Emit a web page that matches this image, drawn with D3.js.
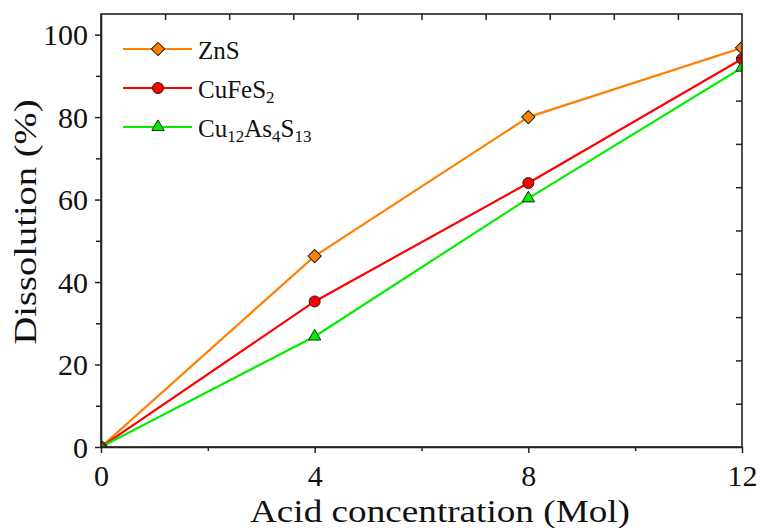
<!DOCTYPE html>
<html>
<head>
<meta charset="utf-8">
<script src="https://cdn.jsdelivr.net/npm/d3@7"></script>
<style>
  body { margin: 0; background: #fff; }
  svg text { font-family: "Liberation Serif", "Times New Roman", serif; fill: #111; }
</style>
</head>
<body>
<div id="chart"></div>
<script>
// data
const acidConc = [0, 4, 8, 12];
const znsVals = [0, 46.3, 80.0, 96.8];
const cufes2Vals = [0, 35.3, 64.0, 94.1];
const tennVals = [0, 26.8, 60.3, 92.0];
const xTicks = [0, 4, 8, 12];
const yTicks = [0, 20, 40, 60, 80, 100];

const width = 760, height = 528;
const plotL = 101, plotR = 742, plotT = 14, plotB = 447;
const serif = "Liberation Serif, Times New Roman, serif";

const svg = d3.select("#chart").append("svg")
  .attr("width", width).attr("height", height)
  .attr("font-family", serif);

const x = d3.scaleLinear().domain([0, 12]).range([plotL, plotR]);
const y = d3.scaleLinear().domain([0, 105]).range([plotB, plotT]);

// clip so markers at the edges are cut by the frame
svg.append("defs").append("clipPath").attr("id", "plotclip")
  .append("rect").attr("x", plotL).attr("y", plotT)
  .attr("width", plotR - plotL).attr("height", plotB - plotT);

const series = [
  { name: "ZnS", vals: znsVals, color: "#ff8000", sym: "diamond" },
  { name: "CuFeS2", vals: cufes2Vals, color: "#ff0000", sym: "circle" },
  { name: "Cu12As4S13", vals: tennVals, color: "#00ee00", sym: "triangle" }
];

function marker(sel, sym) {
  if (sym == "diamond") {
    sel.append("path").attr("d", d3.symbol().type(d3.symbolSquare).size(88)())
      .attr("transform", "rotate(45)");
  } else if (sym == "circle") {
    sel.append("circle").attr("r", 5.5);
  } else {
    sel.append("path").attr("d", d3.symbol().type(d3.symbolTriangle).size(66)());
  }
}

const line = d3.line().x((d, i) => x(acidConc[i])).y(d => y(d));

const plot = svg.append("g").attr("clip-path", "url(#plotclip)");

series.forEach(s => {
  plot.append("path").datum(s.vals)
    .attr("d", line)
    .attr("fill", "none")
    .attr("stroke", s.color)
    .attr("stroke-width", 2.2);
});
series.forEach(s => {
  s.vals.forEach((v, i) => {
    const g = plot.append("g")
      .attr("transform", `translate(${x(acidConc[i])},${y(v)})`)
      .attr("fill", s.color).attr("stroke", "#222").attr("stroke-width", 1);
    marker(g, s.sym);
  });
});

// frame
svg.append("rect").attr("x", plotL).attr("y", plotT)
  .attr("width", plotR - plotL).attr("height", plotB - plotT)
  .attr("fill", "none").attr("stroke", "#222").attr("stroke-width", 1.6);

// bottom axis (outward ticks)
svg.append("g").attr("transform", `translate(0,${plotB})`)
  .call(d3.axisBottom(x).tickValues(xTicks).tickSize(6).tickSizeOuter(0).tickPadding(12))
  .attr("font-family", serif).attr("font-size", 30);
svg.append("g").attr("transform", `translate(0,${plotB})`)
  .call(d3.axisBottom(x).tickValues([2, 6, 10]).tickSize(4).tickFormat(""))
  .call(g => g.select(".domain").remove());

// left axis
const yAxis = svg.append("g").attr("transform", `translate(${plotL},0)`)
  .call(d3.axisLeft(y).tickValues(yTicks).tickSize(6).tickSizeOuter(0).tickPadding(7))
  .attr("font-family", serif).attr("font-size", 30);
svg.append("g").attr("transform", `translate(${plotL},0)`)
  .call(d3.axisLeft(y).tickValues([10, 30, 50, 70, 90]).tickSize(5).tickFormat(""))
  .call(g => g.select(".domain").remove());

// top and right: ten even divisions, inward ticks
const div = d3.scaleLinear().domain([0, 10]);
svg.append("g").attr("transform", `translate(0,${plotT})`)
  .call(d3.axisTop(div.copy().range([plotL, plotR])).tickValues(d3.range(1, 10)).tickSize(-6).tickFormat(""))
  .call(g => g.select(".domain").remove());
svg.append("g").attr("transform", `translate(${plotR},0)`)
  .call(d3.axisRight(div.copy().range([plotB, plotT])).tickValues(d3.range(1, 10)).tickSize(-6).tickFormat(""))
  .call(g => g.select(".domain").remove());

svg.selectAll(".tick line").attr("stroke", "#222").attr("stroke-width", 1.5);
svg.selectAll(".domain").attr("stroke", "#222").attr("stroke-width", 1.6);
svg.selectAll(".tick text").attr("fill", "#111");
yAxis.selectAll(".tick text").attr("dy", "0.34em");

// axis titles
svg.append("text")
  .attr("x", 440).attr("y", 522)
  .attr("text-anchor", "middle")
  .attr("textLength", 380).attr("lengthAdjust", "spacingAndGlyphs")
  .style("font-size", "31px")
  .text("Acid concentration (Mol)");

svg.append("text")
  .attr("transform", "translate(36,222) rotate(-90)")
  .attr("text-anchor", "middle")
  .attr("textLength", 245).attr("lengthAdjust", "spacingAndGlyphs")
  .style("font-size", "31px")
  .text("Dissolution (%)");

// legend
const legend = svg.append("g").attr("transform", "translate(123,49)");
const labels = [
  [["ZnS", 0]],
  [["CuFeS", 0], ["2", 1]],
  [["Cu", 0], ["12", 1], ["As", 0], ["4", 1], ["S", 0], ["13", 1]]
];
series.forEach((s, i) => {
  const row = legend.append("g").attr("transform", `translate(0,${i * 39})`);
  row.append("line").attr("x1", 0).attr("x2", 69)
    .attr("stroke", s.color).attr("stroke-width", 2.2);
  const m = row.append("g").attr("transform", "translate(35,0)")
    .attr("fill", s.color).attr("stroke", "#222").attr("stroke-width", 1);
  marker(m, s.sym);
  const t = row.append("text").attr("x", 75).attr("y", 10).style("font-size", "25px");
  let wasSub = false;
  labels[i].forEach(([txt, sub]) => {
    const ts = t.append("tspan").text(txt);
    if (sub) { ts.style("font-size", "17px"); if (!wasSub) ts.attr("dy", 5); }
    else if (wasSub) ts.attr("dy", -5);
    wasSub = !!sub;
  });
});
</script>
</body>
</html>
